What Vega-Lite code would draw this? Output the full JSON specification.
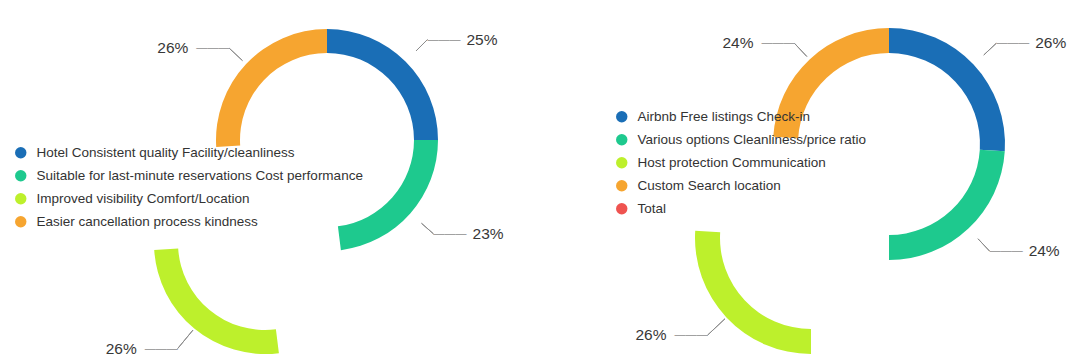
{
  "$schema": "https://vega.github.io/schema/vega-lite/v6.json",
  "width": 1068,
  "height": 359,
  "autosize": "none",
  "padding": 0,
  "background": "white",
  "config": {"view": {"stroke": null}, "font": "Liberation Sans"},
  "resolve": {"scale": {"color": "independent", "theta": "independent"}, "legend": {"color": "independent"}},
  "layer": [
    {
      "data": {"values": [
        {"category": "Hotel Consistent quality Facility/cleanliness", "value": 0.25, "order": 1},
        {"category": "Suitable for last-minute reservations Cost performance", "value": 0.23, "order": 2},
        {"category": "Improved visibility Comfort/Location", "value": 0.26, "order": 3},
        {"category": "Easier cancellation process kindness", "value": 0.26, "order": 4}
      ]},
      "encoding": {
        "theta": {"field": "value", "type": "quantitative", "stack": true},
        "order": {"field": "order", "type": "quantitative"},
        "detail": {"field": "category", "type": "nominal"}
      },
      "layer": [
        {
          "mark": {"type": "arc", "x": 327, "y": 140, "innerRadius": 87, "outerRadius": 111},
          "encoding": {
            "color": {"field": "category", "type": "nominal",
              "scale": {"domain": ["Hotel Consistent quality Facility/cleanliness", "Suitable for last-minute reservations Cost performance", "Improved visibility Comfort/Location", "Easier cancellation process kindness"],
                        "range": ["#1a6eb6", "#1ec98e", "#bdf02c", "#f6a530"]},
              "legend": {"title": null, "orient": "none", "legendX": 14, "legendY": 146, "symbolType": "circle", "symbolSize": 130, "labelFontSize": 13.5, "labelColor": "#333333", "labelOffset": 9, "labelLimit": 0, "rowPadding": 8, "padding": 0, "symbolStrokeWidth": 0}},
            "opacity": {"condition": {"test": "datum.order == 3", "value": 0}, "value": 1}
          }
        },
        {
          "mark": {"type": "arc", "x": 265, "y": 243, "innerRadius": 87, "outerRadius": 111},
          "encoding": {
            "color": {"field": "category", "type": "nominal"},
            "opacity": {"condition": {"test": "datum.order == 3", "value": 1}, "value": 0}
          }
        },
        {
          "mark": {"type": "arc", "x": 327, "y": 140, "innerRadius": 126, "outerRadius": 142, "padAngle": 3, "filled": false, "stroke": "#8c8c8c", "strokeWidth": 1},
          "encoding": {"opacity": {"condition": {"test": "datum.order <= 2", "value": 1}, "value": 0}}
        },
        {
          "mark": {"type": "arc", "x": 327, "y": 140, "innerRadius": 116, "outerRadius": 134, "padAngle": 3, "filled": false, "stroke": "#8c8c8c", "strokeWidth": 1},
          "encoding": {"opacity": {"condition": {"test": "datum.order == 4", "value": 1}, "value": 0}}
        },
        {
          "mark": {"type": "arc", "x": 265, "y": 243, "innerRadius": 113, "outerRadius": 137, "padAngle": 3, "filled": false, "stroke": "#8c8c8c", "strokeWidth": 1},
          "encoding": {"opacity": {"condition": {"test": "datum.order == 3", "value": 1}, "value": 0}}
        },
        {
          "mark": {"type": "text", "x": 327, "y": 140, "radius": 142, "text": "———", "align": "left", "baseline": "middle", "fontSize": 11, "color": "#8c8c8c"},
          "encoding": {"opacity": {"condition": {"test": "datum.order <= 2", "value": 1}, "value": 0}}
        },
        {
          "mark": {"type": "text", "x": 327, "y": 140, "radius": 142, "dx": 39, "align": "left", "baseline": "middle", "fontSize": 15.5, "color": "#383838"},
          "encoding": {
            "text": {"field": "value", "type": "quantitative", "format": ".0%"},
            "opacity": {"condition": {"test": "datum.order <= 2", "value": 1}, "value": 0}
          }
        },
        {
          "mark": {"type": "text", "x": 327, "y": 140, "radius": 134, "text": "———", "align": "right", "baseline": "middle", "fontSize": 11, "color": "#8c8c8c"},
          "encoding": {"opacity": {"condition": {"test": "datum.order == 4", "value": 1}, "value": 0}}
        },
        {
          "mark": {"type": "text", "x": 327, "y": 140, "radius": 134, "dx": -41, "align": "right", "baseline": "middle", "fontSize": 15.5, "color": "#383838"},
          "encoding": {
            "text": {"field": "value", "type": "quantitative", "format": ".0%"},
            "opacity": {"condition": {"test": "datum.order == 4", "value": 1}, "value": 0}
          }
        },
        {
          "mark": {"type": "text", "x": 265, "y": 243, "radius": 137, "text": "———", "align": "right", "baseline": "middle", "fontSize": 11, "color": "#8c8c8c"},
          "encoding": {"opacity": {"condition": {"test": "datum.order == 3", "value": 1}, "value": 0}}
        },
        {
          "mark": {"type": "text", "x": 265, "y": 243, "radius": 137, "dx": -41, "align": "right", "baseline": "middle", "fontSize": 15.5, "color": "#383838"},
          "encoding": {
            "text": {"field": "value", "type": "quantitative", "format": ".0%"},
            "opacity": {"condition": {"test": "datum.order == 3", "value": 1}, "value": 0}
          }
        }
      ]
    },
    {
      "data": {"values": [
        {"category": "Airbnb Free listings Check-in", "value": 0.26, "order": 1},
        {"category": "Various options Cleanliness/price ratio", "value": 0.24, "order": 2},
        {"category": "Host protection Communication", "value": 0.26, "order": 3},
        {"category": "Custom Search location", "value": 0.24, "order": 4}
      ]},
      "encoding": {
        "theta": {"field": "value", "type": "quantitative", "stack": true},
        "order": {"field": "order", "type": "quantitative"},
        "detail": {"field": "category", "type": "nominal"}
      },
      "layer": [
        {
          "mark": {"type": "arc", "x": 889, "y": 144, "innerRadius": 91, "outerRadius": 116},
          "encoding": {
            "color": {"field": "category", "type": "nominal",
              "scale": {"domain": ["Airbnb Free listings Check-in", "Various options Cleanliness/price ratio", "Host protection Communication", "Custom Search location", "Total"],
                        "range": ["#1a6eb6", "#1ec98e", "#bdf02c", "#f6a530", "#ef5350"]},
              "legend": {"title": null, "orient": "none", "legendX": 615, "legendY": 110, "symbolType": "circle", "symbolSize": 130, "labelFontSize": 13.5, "labelColor": "#333333", "labelOffset": 9, "labelLimit": 0, "rowPadding": 8, "padding": 0, "symbolStrokeWidth": 0}},
            "opacity": {"condition": {"test": "datum.order == 3", "value": 0}, "value": 1}
          }
        },
        {
          "mark": {"type": "arc", "x": 811, "y": 238, "innerRadius": 91, "outerRadius": 116},
          "encoding": {
            "color": {"field": "category", "type": "nominal"},
            "opacity": {"condition": {"test": "datum.order == 3", "value": 1}, "value": 0}
          }
        },
        {
          "mark": {"type": "arc", "x": 889, "y": 144, "innerRadius": 130, "outerRadius": 147, "padAngle": 3, "filled": false, "stroke": "#8c8c8c", "strokeWidth": 1},
          "encoding": {"opacity": {"condition": {"test": "datum.order <= 2", "value": 1}, "value": 0}}
        },
        {
          "mark": {"type": "arc", "x": 889, "y": 144, "innerRadius": 120, "outerRadius": 138, "padAngle": 3, "filled": false, "stroke": "#8c8c8c", "strokeWidth": 1},
          "encoding": {"opacity": {"condition": {"test": "datum.order == 4", "value": 1}, "value": 0}}
        },
        {
          "mark": {"type": "arc", "x": 811, "y": 238, "innerRadius": 118, "outerRadius": 142, "padAngle": 3, "filled": false, "stroke": "#8c8c8c", "strokeWidth": 1},
          "encoding": {"opacity": {"condition": {"test": "datum.order == 3", "value": 1}, "value": 0}}
        },
        {
          "mark": {"type": "text", "x": 889, "y": 144, "radius": 147, "text": "———", "align": "left", "baseline": "middle", "fontSize": 11, "color": "#8c8c8c"},
          "encoding": {"opacity": {"condition": {"test": "datum.order <= 2", "value": 1}, "value": 0}}
        },
        {
          "mark": {"type": "text", "x": 889, "y": 144, "radius": 147, "dx": 39, "align": "left", "baseline": "middle", "fontSize": 15.5, "color": "#383838"},
          "encoding": {
            "text": {"field": "value", "type": "quantitative", "format": ".0%"},
            "opacity": {"condition": {"test": "datum.order <= 2", "value": 1}, "value": 0}
          }
        },
        {
          "mark": {"type": "text", "x": 889, "y": 144, "radius": 138, "text": "———", "align": "right", "baseline": "middle", "fontSize": 11, "color": "#8c8c8c"},
          "encoding": {"opacity": {"condition": {"test": "datum.order == 4", "value": 1}, "value": 0}}
        },
        {
          "mark": {"type": "text", "x": 889, "y": 144, "radius": 138, "dx": -41, "align": "right", "baseline": "middle", "fontSize": 15.5, "color": "#383838"},
          "encoding": {
            "text": {"field": "value", "type": "quantitative", "format": ".0%"},
            "opacity": {"condition": {"test": "datum.order == 4", "value": 1}, "value": 0}
          }
        },
        {
          "mark": {"type": "text", "x": 811, "y": 238, "radius": 142, "text": "———", "align": "right", "baseline": "middle", "fontSize": 11, "color": "#8c8c8c"},
          "encoding": {"opacity": {"condition": {"test": "datum.order == 3", "value": 1}, "value": 0}}
        },
        {
          "mark": {"type": "text", "x": 811, "y": 238, "radius": 142, "dx": -41, "align": "right", "baseline": "middle", "fontSize": 15.5, "color": "#383838"},
          "encoding": {
            "text": {"field": "value", "type": "quantitative", "format": ".0%"},
            "opacity": {"condition": {"test": "datum.order == 3", "value": 1}, "value": 0}
          }
        }
      ]
    }
  ]
}
